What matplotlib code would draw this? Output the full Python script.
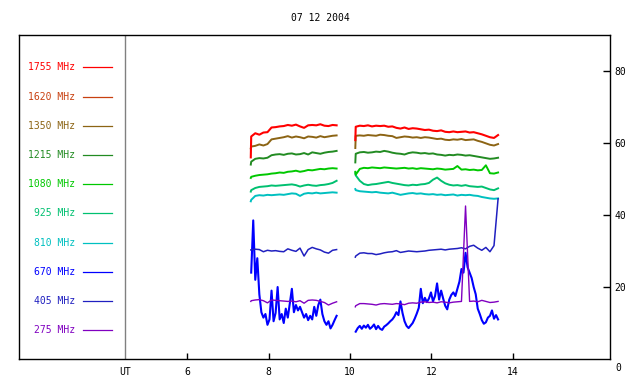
import numpy as np
import matplotlib
matplotlib.use("Agg")
import matplotlib.pyplot as plt

plt.rcParams['font.family'] = 'DejaVu Sans Mono'
plt.rcParams['font.size'] = 7

title = "07 12 2004"

# legend order, top to bottom
freqs = ["1755", "1620", "1350", "1215", "1080", "925", "810", "670", "405", "275"]
colors = {
    "1755": "#ff0000", "1620": "#c84010", "1350": "#8c6414", "1215": "#228b22",
    "1080": "#00c800", "925": "#00c070", "810": "#00c0c0", "670": "#0000ff",
    "405": "#2020c0", "275": "#8000c0",
}

# time grids (UT hours), first entry is the start-up sample
t1 = np.r_[7.56, np.linspace(7.57, 9.67, 22)]
t2 = np.r_[10.13, np.linspace(10.14, 13.64, 36)]
t1_fine = np.linspace(7.57, 9.67, 43)
t2_fine = np.linspace(10.14, 13.64, 71)

# flux values, first segment
red1 = [56.0, 61.8, 62.7, 62.3, 62.9, 63.0, 64.3, 64.4, 64.6, 64.7, 65.0, 64.8,
        65.1, 64.6, 64.2, 64.9, 65.0, 64.9, 65.2, 64.8, 64.7, 65.0, 64.9]
brown1 = [58.5, 59.0, 59.2, 59.6, 59.3, 59.7, 61.0, 61.2, 61.4, 61.6, 61.9, 61.5,
          61.8, 61.6, 61.3, 61.8, 61.7, 61.5, 61.9, 61.6, 61.8, 62.0, 62.1]
fgreen1 = [54.0, 54.8, 55.6, 55.8, 55.7, 55.9, 56.6, 56.8, 56.9, 56.7, 57.0, 57.1,
           56.8, 56.9, 57.2, 56.8, 57.4, 57.2, 57.0, 57.3, 57.5, 57.6, 57.8]
green1 = [50.3, 50.6, 50.9, 51.1, 51.2, 51.3, 51.5, 51.6, 51.8, 51.7, 52.0, 52.1,
          52.3, 52.0, 52.2, 52.5, 52.4, 52.6, 52.8, 52.7, 52.9, 53.0, 52.9]
sea1 = [46.5, 46.9, 47.5, 47.8, 47.9, 48.0, 48.2, 48.1, 48.2, 48.3, 48.4, 48.5,
        48.3, 47.9, 48.2, 48.4, 48.2, 48.1, 48.3, 48.4, 48.6, 48.9, 49.5]
cyan1 = [43.8, 44.2, 45.3, 45.5, 45.4, 45.6, 45.5, 45.6, 45.7, 45.6, 45.8, 46.0,
         45.9, 45.3, 45.9, 46.1, 46.0, 46.2, 46.0, 46.1, 46.2, 46.3, 46.2]
dblue1 = [30.3, 30.3, 30.5, 30.4, 29.8, 30.2, 30.0, 30.1, 29.9, 29.8, 30.6, 30.2,
          29.9, 30.8, 28.6, 30.4, 31.0, 30.6, 30.3, 29.7, 29.4, 30.2, 30.4]
purple1 = [16.0, 16.2, 16.4, 16.5, 16.2, 15.6, 16.4, 16.3, 16.2, 16.1, 16.0, 16.1,
           15.9, 16.2, 15.5, 16.3, 16.4, 16.3, 16.0, 15.7, 15.0, 15.5, 15.9]
blue1 = [24.0, 38.5, 22.0, 28.0, 18.0, 13.0, 11.5, 12.5, 9.5, 11.0, 19.0, 10.5,
         12.8, 20.0, 11.0, 12.5, 10.0, 14.0, 11.5, 15.5, 19.5, 13.0, 15.0, 13.5,
         14.5, 13.0, 11.5, 12.5, 10.8, 12.0, 11.0, 14.5, 12.0, 15.0, 16.5, 12.5,
         10.5, 9.5, 10.5, 8.5, 9.5, 10.8, 12.0]

# second segment
red2 = [60.8, 64.5, 64.8, 64.7, 64.9, 64.6, 64.8, 64.7, 64.8, 64.5, 64.6, 64.2,
        64.0, 64.3, 63.9, 64.1, 64.0, 63.8, 63.6, 63.7, 63.4, 63.3, 63.5, 63.1,
        63.0, 63.2, 63.0, 63.1, 63.2, 62.9, 63.0, 62.7, 62.4, 62.0, 61.6, 61.4, 62.2]
brown2 = [58.6, 62.0, 62.1, 62.0, 62.2, 62.1, 62.0, 62.3, 62.2, 62.0, 61.9, 61.4,
          61.6, 61.8, 61.7, 61.5, 61.6, 61.4, 61.6, 61.5, 61.3, 61.1, 61.2, 60.9,
          60.8, 61.0, 60.9, 61.1, 60.8, 60.9, 61.0, 60.6, 60.3, 59.9, 59.5, 59.3, 59.7]
fgreen2 = [54.6, 57.0, 57.4, 57.5, 57.3, 57.4, 57.6, 57.5, 57.8, 57.6, 57.3, 57.1,
           57.0, 56.8, 57.2, 57.4, 57.3, 57.1, 57.2, 57.0, 57.1, 56.8, 56.7, 56.5,
           56.7, 56.6, 56.8, 56.7, 56.5, 56.6, 56.4, 56.2, 56.0, 55.8, 55.6, 55.7, 55.9]
green2 = [52.0, 51.2, 52.8, 53.1, 53.0, 53.2, 53.1, 53.0, 53.2, 53.1, 53.0, 52.9,
          53.0, 53.1, 52.9, 53.0, 52.8, 53.0, 52.9, 52.8, 52.7, 52.9, 52.8, 52.6,
          52.7, 52.8, 53.6, 52.6, 52.7, 52.5, 52.6, 52.4, 52.5, 53.8, 51.6, 51.5, 51.8]
sea2 = [51.6, 51.0, 49.5, 48.6, 48.3, 48.5, 48.6, 48.8, 49.0, 49.2, 48.9, 48.7,
        48.5, 48.3, 48.2, 48.4, 48.3, 48.5, 48.6, 48.9, 49.8, 50.4, 49.5, 48.8,
        48.4, 48.2, 48.3, 48.1, 48.3, 48.0, 47.9, 47.8, 47.9, 47.5, 47.1, 46.9, 47.4]
cyan2 = [47.2, 46.9, 46.6, 46.5, 46.4, 46.3, 46.4, 46.2, 46.1, 46.0, 46.2, 45.9,
         45.6, 45.8, 46.0, 46.1, 45.9, 46.0, 45.8, 45.7, 45.8, 45.6, 45.7, 45.5,
         45.6, 45.7, 45.4, 45.6, 45.5, 45.6, 45.4, 45.3, 45.0, 44.8, 44.6, 44.5, 44.6]
dblue2 = [28.3, 28.6, 29.4, 29.5, 29.3, 29.3, 29.0, 29.2, 29.5, 29.7, 29.8, 30.1,
          29.6, 29.8, 30.0, 29.9, 29.8, 29.9, 30.0, 30.2, 30.3, 30.4, 30.5, 30.3,
          30.5, 30.6, 30.7, 30.9, 30.6, 31.3, 31.6, 30.8, 30.2, 31.0, 29.8, 31.5, 44.5]
purple2 = [14.5, 14.8, 15.4, 15.4, 15.3, 15.2, 15.0, 15.3, 15.4, 15.3, 15.2, 15.4,
           15.3, 15.1, 15.5, 15.6, 15.5, 15.8, 15.9, 15.7, 15.8, 15.6, 15.9, 15.8,
           15.6, 15.8, 15.9, 16.0, 42.5, 16.0, 16.1, 15.9, 16.3, 16.0, 15.7, 15.8, 16.0]
blue2 = [7.6, 8.6, 9.2, 8.4, 9.3, 8.7, 9.5, 8.4, 8.9, 9.6, 8.3, 9.2, 8.4, 8.1,
         9.0, 9.4, 9.9, 10.5, 11.0, 11.8, 13.0, 12.2, 16.0, 12.8, 10.5, 9.2, 8.6,
         9.3, 10.0, 11.2, 12.6, 14.2, 19.5, 15.5, 17.0, 15.8, 16.8, 18.5, 16.0,
         17.5, 21.0, 16.5, 19.0, 16.8, 14.8, 13.8, 16.5, 17.8, 18.5, 17.5, 19.5,
         21.5, 25.0, 24.0, 29.5, 25.5, 24.0, 22.5, 20.0, 18.0, 14.0, 12.5, 10.8,
         9.8, 10.2, 11.5, 12.0, 13.5, 11.2, 12.2, 11.0]

# channel -> (time1, values1, time2, values2, width), in drawing order
channels = [
    ("670", t1_fine, blue1, t2_fine, blue2, 1.5),
    ("810", t1, cyan1, t2, cyan2, 1.4),
    ("925", t1, sea1, t2, sea2, 1.4),
    ("1080", t1, green1, t2, green2, 1.4),
    ("1215", t1, fgreen1, t2, fgreen2, 1.4),
    ("1350", t1, brown1, t2, brown2, 1.4),
    ("1755", t1, red1, t2, red2, 1.5),
    ("405", t1, dblue1, t2, dblue2, 1.1),
    ("275", t1, purple1, t2, purple2, 1.0),
]

ut_x = 4.47

fig = plt.figure(figsize=(6.4, 3.84), dpi=100)
ax = fig.add_axes([0.029, 0.065, 0.924, 0.844])

for name, ta, va, tb, vb, lw in channels:
    ax.plot(ta, va, color=colors[name], lw=lw)
    ax.plot(tb, vb, color=colors[name], lw=lw)

ax.axvline(ut_x, color="#808080", lw=1)

ax.set_xlim(1.85, 16.39)
ax.set_ylim(0, 90)

ax.set_xticks([6, 8, 10, 12, 14])
ax.yaxis.tick_right()
ax.set_yticks([20, 40, 60, 80])
ax.tick_params(axis="x", direction="in", length=4, pad=6, width=1)
ax.tick_params(axis="y", direction="in", length=5, pad=3.5, width=1)
for sp in ax.spines.values():
    sp.set_linewidth(1)

ax.annotate("0", xy=(1, 0), xycoords="axes fraction", xytext=(3.6, -6.5),
            textcoords="offset points", ha="left", va="center")
ax.annotate("UT", xy=(ut_x, 0), xycoords=("data", "axes fraction"),
            xytext=(0, -9.5), textcoords="offset points", ha="center", va="center")

# legend column on the left
for i, name in enumerate(freqs):
    y = 0.900 - i * 0.0901
    ax.text(0.0955, y, name + " MHz", transform=ax.transAxes, color=colors[name],
            ha="right", va="center")
    ax.plot([0.109, 0.158], [y, y], transform=ax.transAxes, color=colors[name], lw=0.9)

fig.text(0.5, 0.953, title, ha="center", va="center")

fig.savefig("out.png", dpi=100)
